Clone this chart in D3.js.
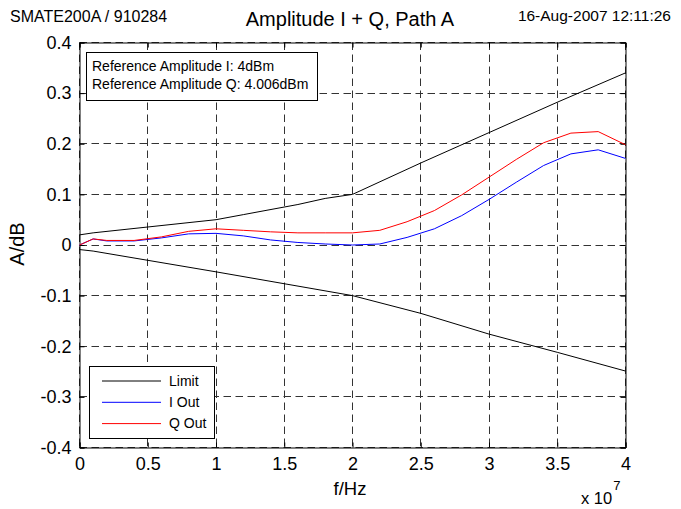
<!DOCTYPE html>
<html><head><meta charset="utf-8">
<script src="https://cdn.jsdelivr.net/npm/d3@7"></script>
<style>body{margin:0;background:#fff}svg{display:block}text{font-family:"Liberation Sans",Arial,sans-serif}</style>
</head><body>
<svg id="c" width="681" height="509"></svg>
<script>
// ---- data ----
const freqMeas = [0, 0.1, 0.2, 0.4, 0.6, 0.8, 1.0, 1.2, 1.4, 1.6, 1.8, 2.0, 2.2, 2.4, 2.6, 2.8, 3.0, 3.2, 3.4, 3.6, 3.8, 4.0]; // x 1e7 Hz
const iOut = [0.0, 0.012, 0.008, 0.008, 0.014, 0.022, 0.023, 0.018, 0.010, 0.005, 0.002, 0.0, 0.002, 0.015, 0.032, 0.058, 0.090, 0.124, 0.157, 0.180, 0.188, 0.171];
const qOut = [0.0, 0.012, 0.009, 0.009, 0.016, 0.027, 0.032, 0.029, 0.026, 0.024, 0.024, 0.024, 0.029, 0.046, 0.068, 0.099, 0.134, 0.169, 0.202, 0.221, 0.224, 0.198];
const freqLimUp = [0, 0.1, 1.0, 1.2, 1.6, 1.8, 2.0, 2.5, 3.0, 3.5, 4.0];
const limUp = [0.020, 0.024, 0.050, 0.060, 0.080, 0.092, 0.100, 0.162, 0.222, 0.282, 0.340];
const freqLimLo = [0, 0.1, 1.0, 2.0, 2.5, 3.0, 3.5, 4.0];
const limLo = [-0.009, -0.012, -0.053, -0.100, -0.135, -0.176, -0.212, -0.249];
const xTicks = [0, 0.5, 1, 1.5, 2, 2.5, 3, 3.5, 4];
const yTicks = [-0.4, -0.3, -0.2, -0.1, 0, 0.1, 0.2, 0.3, 0.4];
const legendItems = ["Limit", "I Out", "Q Out"];
const legendColors = ["#000000", "#0000ff", "#ff0000"];
const refLines = ["Reference Amplitude I: 4dBm", "Reference Amplitude Q: 4.006dBm"];

const svg = d3.select("#c");
const L = 79.5, R = 625.5, T = 42.5, B = 447.5;
const x = d3.scaleLinear().domain([0, 4]).range([L, R]);
const y = d3.scaleLinear().domain([-0.4, 0.4]).range([B, T]);

// grid
const GC = "#333", DASH = "7.5,4.5";
const g = svg.append("g");
g.selectAll(".vg").data(xTicks).enter().append("line")
  .attr("x1", d => Math.round(x(d) - 0.5) + 0.5).attr("x2", d => Math.round(x(d) - 0.5) + 0.5)
  .attr("y1", T).attr("y2", B)
  .attr("stroke", GC).attr("stroke-width", 1).attr("stroke-dasharray", DASH);
g.selectAll(".hg").data(yTicks).enter().append("line")
  .attr("y1", d => Math.round(y(d) - 0.5) + 0.5).attr("y2", d => Math.round(y(d) - 0.5) + 0.5)
  .attr("x1", L).attr("x2", R)
  .attr("stroke", GC).attr("stroke-width", 1).attr("stroke-dasharray", DASH);

// axes: ticks inward on all sides
const fmt = d => String(+d.toFixed(2));
const axB = d3.axisBottom(x).tickValues(xTicks).tickSize(-5).tickPadding(10).tickFormat(fmt);
const axT = d3.axisTop(x).tickValues(xTicks).tickSize(-5).tickFormat("");
const axLft = d3.axisLeft(y).tickValues(yTicks).tickSize(-5).tickPadding(8).tickFormat(fmt);
const axRt = d3.axisRight(y).tickValues(yTicks).tickSize(-5).tickFormat("");
function style(sel){ sel.select(".domain").attr("stroke","#000"); sel.selectAll("line").attr("stroke","#000"); sel.selectAll("text").attr("font-size",18).attr("font-family","Liberation Sans, Arial, sans-serif").attr("fill","#000"); }
svg.append("g").attr("transform", `translate(0,${B})`).call(axB).call(style);
svg.append("g").attr("transform", `translate(0,${T})`).call(axT).call(style);
svg.append("g").attr("transform", `translate(${L},0)`).call(axLft).call(style);
svg.append("g").attr("transform", `translate(${R},0)`).call(axRt).call(style);

// lines
const line = (fx, vy) => d3.line().x((d, i) => x(fx[i])).y(d => y(d))(vy);
svg.append("path").attr("d", line(freqLimUp, limUp)).attr("fill", "none").attr("stroke", legendColors[0]).attr("stroke-width", 1);
svg.append("path").attr("d", line(freqLimLo, limLo)).attr("fill", "none").attr("stroke", legendColors[0]).attr("stroke-width", 1);
svg.append("path").attr("d", line(freqMeas, iOut)).attr("fill", "none").attr("stroke", legendColors[1]).attr("stroke-width", 1);
svg.append("path").attr("d", line(freqMeas, qOut)).attr("fill", "none").attr("stroke", legendColors[2]).attr("stroke-width", 1);

// reference annotation box
svg.append("rect").attr("x", 86.5).attr("y", 52.5).attr("width", 231).attr("height", 48)
  .attr("fill", "#fff").attr("stroke", "#000");
svg.selectAll(".ref").data(refLines).enter().append("text")
  .attr("x", 92).attr("y", (d, i) => 71 + i * 17.5).attr("font-size", 14).text(d => d);

// legend
svg.append("rect").attr("x", 89.5).attr("y", 366.5).attr("width", 125).attr("height", 72)
  .attr("fill", "#fff").attr("stroke", "#000");
legendItems.forEach((t, i) => {
  const yy = 381 + i * 21.3;
  svg.append("line").attr("x1", 102).attr("x2", 161).attr("y1", yy).attr("y2", yy).attr("stroke", legendColors[i]);
  svg.append("text").attr("x", 169).attr("y", yy + 4.8).attr("font-size", 14).text(t);
});

// titles
svg.append("text").attr("x", 10).attr("y", 21.5).attr("font-size", 16).text("SMATE200A / 910284");
svg.append("text").attr("x", 350).attr("y", 26).attr("font-size", 20).attr("text-anchor", "middle").text("Amplitude I + Q, Path A");
svg.append("text").attr("x", 671).attr("y", 21).attr("font-size", 15.5).attr("text-anchor", "end").text("16-Aug-2007 12:11:26");
svg.append("text").attr("x", 350).attr("y", 495).attr("font-size", 18.5).attr("text-anchor", "middle").text("f/Hz");
svg.append("text").attr("transform", `translate(24,244) rotate(-90)`).attr("font-size", 20).attr("text-anchor", "middle").text("A/dB");
const xe = svg.append("text").attr("x", 581).attr("y", 504).attr("font-size", 16.5);
xe.append("tspan").text("x 10");
xe.append("tspan").attr("dx", 1).attr("dy", -14).attr("font-size", 13).text("7");
</script>
</body></html>
